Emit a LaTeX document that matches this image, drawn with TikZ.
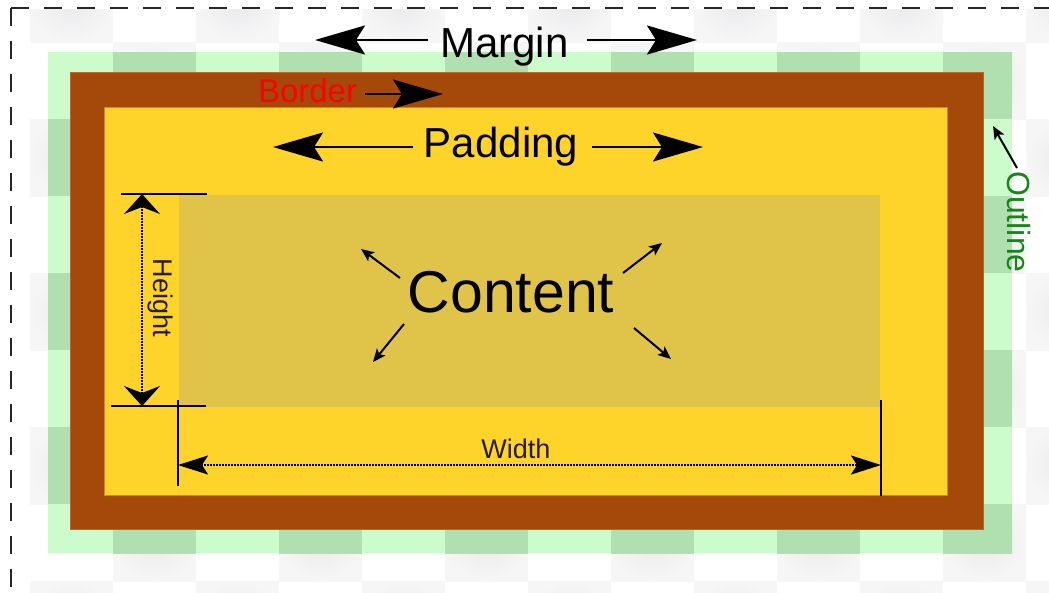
\documentclass[tikz,border=0pt]{standalone}
\usepackage{fontspec}
\setmainfont{Liberation Sans}
\usetikzlibrary{arrows.meta}
\definecolor{brownB}{RGB}{165,73,11}
\definecolor{brownE}{RGB}{190,100,40}
\definecolor{yellowP}{RGB}{255,212,42}
\definecolor{contentC}{RGB}{224,196,74}
\definecolor{greenO}{RGB}{204,252,204}
\definecolor{greenD}{RGB}{176,224,176}
\definecolor{grayC}{RGB}{234,234,236}
\definecolor{grayL}{RGB}{246,246,247}
\definecolor{darkT}{RGB}{40,28,0}
\definecolor{outlineG}{RGB}{20,135,20}
\definecolor{borderR}{RGB}{255,0,0}
\tikzset{
  lbl/.style={inner sep=0pt, outer sep=0pt},
  bigarrow/.style={line width=2.5pt, -{Stealth[length=50pt,width=29pt,inset=9pt]}},
  widtharrow/.style={line width=2pt, dash pattern=on 1.5pt off 1.5pt, {Stealth[length=30pt,width=19pt,inset=6pt]}-{Stealth[length=30pt,width=19pt,inset=6pt]}},
  heightarrow/.style={line width=2pt, dash pattern=on 1.5pt off 1.5pt, {Stealth[length=20pt,width=36pt,inset=7pt]}-{Stealth[length=20pt,width=36pt,inset=7pt]}},
  tick/.style={line width=2pt},
  smallarrow/.style={line width=2pt, -{Stealth[length=13pt,width=11pt,inset=3pt]}},
  frame/.style={line width=2pt, black!85, dash pattern=on 18pt off 15pt},
  graycell/.style={inner color=grayC, outer color=grayL},
  greencell/.style={fill=greenD}
}
\begin{document}
\begin{tikzpicture}[x=1pt,y=-1pt]
\useasboundingbox (0,0) rectangle (1049,592);
\clip (0,0) rectangle (1049,592);
% checkerboard background
\begin{scope}
  \clip (11,9) rectangle (1049,592);
  \foreach \r in {0,...,8} {
    \foreach \c in {0,...,12} {
      \pgfmathtruncatemacro\parity{mod(\r+\c,2)}
      \ifnum\parity=0
        \shade[graycell] (30+83*\c,-35+77*\r) rectangle +(83,77);
      \fi
    }
  }
\end{scope}
% outline (margin area tinted)
\fill[greenO] (48,52) rectangle (1012,553);
\begin{scope}
  \clip (48,52) rectangle (1012,553);
  \foreach \r in {0,...,8} {
    \foreach \c in {0,...,12} {
      \pgfmathtruncatemacro\parity{mod(\r+\c,2)}
      \ifnum\parity=0
        \fill[greencell] (30+83*\c,-35+77*\r) rectangle +(83,77);
      \fi
    }
  }
\end{scope}
% border, padding, content
\filldraw[fill=brownB, draw=brownE, line width=0.8pt] (70,72) rectangle (983,529);
\filldraw[fill=yellowP, draw=brownE!70!yellowP, line width=0.8pt] (104,107) rectangle (947,495);
\fill[contentC] (179,195) rectangle (880,407);
% dashed frame
\coordinate (fc) at (11,8);
\coordinate (fr) at (1049,8);
\coordinate (fb) at (11,592);
\draw[frame] (fc) -- (fr);
\draw[frame] (fc) -- (fb);

% Margin
\node[lbl, anchor=base, font=\fontsize{42}{48}\selectfont] (margin) at (504.5,57) {Margin};
\coordinate (mL0) at (428,40); \coordinate (mL1) at (315,40);
\coordinate (mR0) at (587,40); \coordinate (mR1) at (697,40);
\draw[bigarrow] (mL0) -- (mL1);
\draw[bigarrow] (mR0) -- (mR1);

% Border
\node[lbl, anchor=base west, text=borderR, font=\fontsize{33}{38}\selectfont] (border) at (258,102) {Border};
\coordinate (b0) at (365,94); \coordinate (b1) at (443,94);
\draw[bigarrow] (b0) -- (b1);

% Padding
\node[lbl, anchor=base, font=\fontsize{42}{48}\selectfont] (padding) at (501,157) {Padding};
\coordinate (pL0) at (413,147); \coordinate (pL1) at (273,147);
\coordinate (pR0) at (592,147); \coordinate (pR1) at (703,147);
\draw[bigarrow] (pL0) -- (pL1);
\draw[bigarrow] (pR0) -- (pR1);

% Content
\node[lbl, anchor=base, font=\fontsize{59}{66}\selectfont] (content) at (511,312) {Content};
\coordinate (c1a) at (400,278); \coordinate (c1b) at (361,249);
\coordinate (c2a) at (623,273); \coordinate (c2b) at (662,243);
\coordinate (c3a) at (404,324); \coordinate (c3b) at (373,362);
\coordinate (c4a) at (634,328); \coordinate (c4b) at (671,359);
\draw[smallarrow] (c1a) -- (c1b);
\draw[smallarrow] (c2a) -- (c2b);
\draw[smallarrow] (c3a) -- (c3b);
\draw[smallarrow] (c4a) -- (c4b);

% Height dimension
\coordinate (hT) at (142,194); \coordinate (hB) at (142,406);
\coordinate (hT0) at (121,194); \coordinate (hT1) at (207,194);
\coordinate (hB0) at (111,406); \coordinate (hB1) at (206,406);
\draw[tick] (hT0) -- (hT1);
\draw[tick] (hB0) -- (hB1);
\draw[heightarrow] (hT) -- (hB);
\node[lbl, rotate=-90, text=darkT, font=\fontsize{27}{32}\selectfont] (height) at (160,298) {Height};

% Width dimension
\coordinate (wL) at (178,465); \coordinate (wR) at (881,465);
\coordinate (wL0) at (178,400); \coordinate (wL1) at (178,486);
\coordinate (wR0) at (881,400); \coordinate (wR1) at (881,496);
\draw[tick] (wL0) -- (wL1);
\draw[tick] (wR0) -- (wR1);
\draw[widtharrow] (wL) -- (wR);
\node[lbl, anchor=base, text=darkT, font=\fontsize{27}{32}\selectfont] (width) at (516,458) {Width};

% Outline
\node[lbl, rotate=-90, text=outlineG, font=\fontsize{32}{38}\selectfont] (outline) at (1019,222) {Outline};
\coordinate (o0) at (1017,168); \coordinate (o1) at (993,126);
\draw[smallarrow] (o0) -- (o1);
\end{tikzpicture}
\end{document}
